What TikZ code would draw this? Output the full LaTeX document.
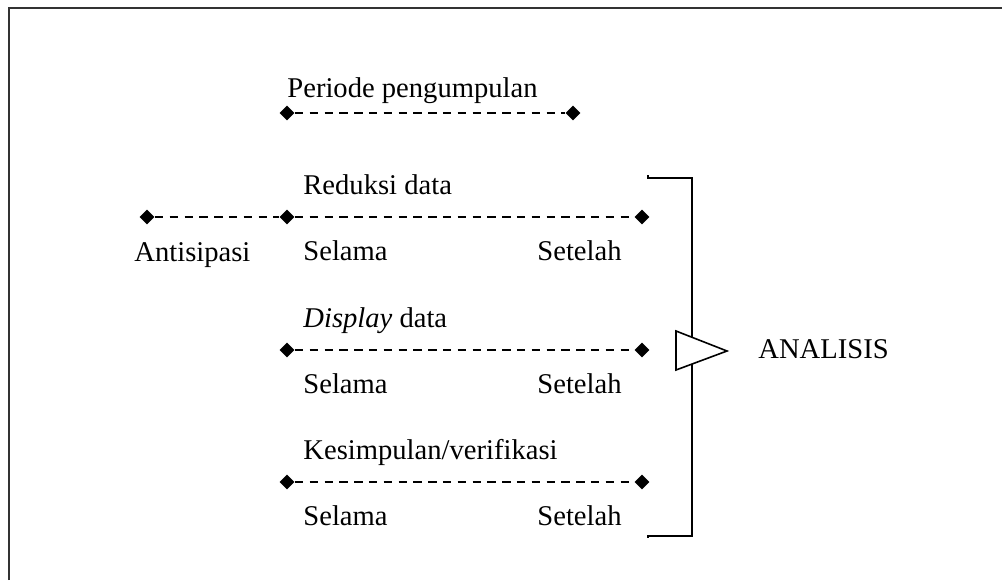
\documentclass[tikz,border=0pt]{standalone}
\usepackage{fontspec}
\setmainfont{Liberation Serif}
\usetikzlibrary{shapes.geometric}

\begin{document}
\begin{tikzpicture}[x=0.5pt, y=-0.5pt, font=\fontsize{14.3}{17}\selectfont,
    dot/.style={diamond, fill=black, inner sep=0pt, minimum width=7.5pt, minimum height=7.5pt},
    lbl/.style={inner sep=0pt, anchor=base west},
    dashline/.style={dash pattern=on 4.2pt off 3.2pt, line width=1pt}]
    \useasboundingbox (0,0) rectangle (1002,580);
    \draw[black!80, line width=1.2pt] (9,580) -- (9,8) -- (1002,8);
    % periode pengumpulan
    \node[dot] (p0) at (287,113) {};
    \node[dot] (p1) at (573,113) {};
    \draw[dashline] (p0) -- (p1);
    \node[lbl] (ptxt) at (287,97) {Periode pengumpulan};
    % antisipasi
    \node[dot] (ant) at (147,217) {};
    \node[lbl] (anttxt) at (134,261) {Antisipasi};
    % tiga komponen
    \foreach \t/\y/\i in {Reduksi data/217/1, \textit{Display} data/350/2, {Kesimpulan/verifikasi}/482/3} {
        \node[dot] (a\i) at (287,\y) {};
        \node[dot] (b\i) at (642,\y) {};
        \draw[dashline] (a\i) -- (b\i);
        \node[lbl] (t\i) at (303,\y-23) {\t};
        \node[lbl] (s\i) at (303,\y+43) {Selama};
        \node[lbl, anchor=base east] (e\i) at (622,\y+43) {Setelah};
    }
    \draw[dashline] (ant) -- (a1);
    % kurung dan panah
    \coordinate (kt) at (648,178);
    \coordinate (kb) at (648,536);
    \draw[line width=0.7pt] ([yshift=1.5pt]kt) -- (kt) -- (692,178) -- (692,536) -- (kb) -- ([yshift=-1pt]kb);
    \draw[line width=0.8pt, fill=white] (676,331) -- (727,351) -- (676,370) -- cycle;
    \node[lbl] (hasil) at (758,358) {ANALISIS};
\end{tikzpicture}
\end{document}
